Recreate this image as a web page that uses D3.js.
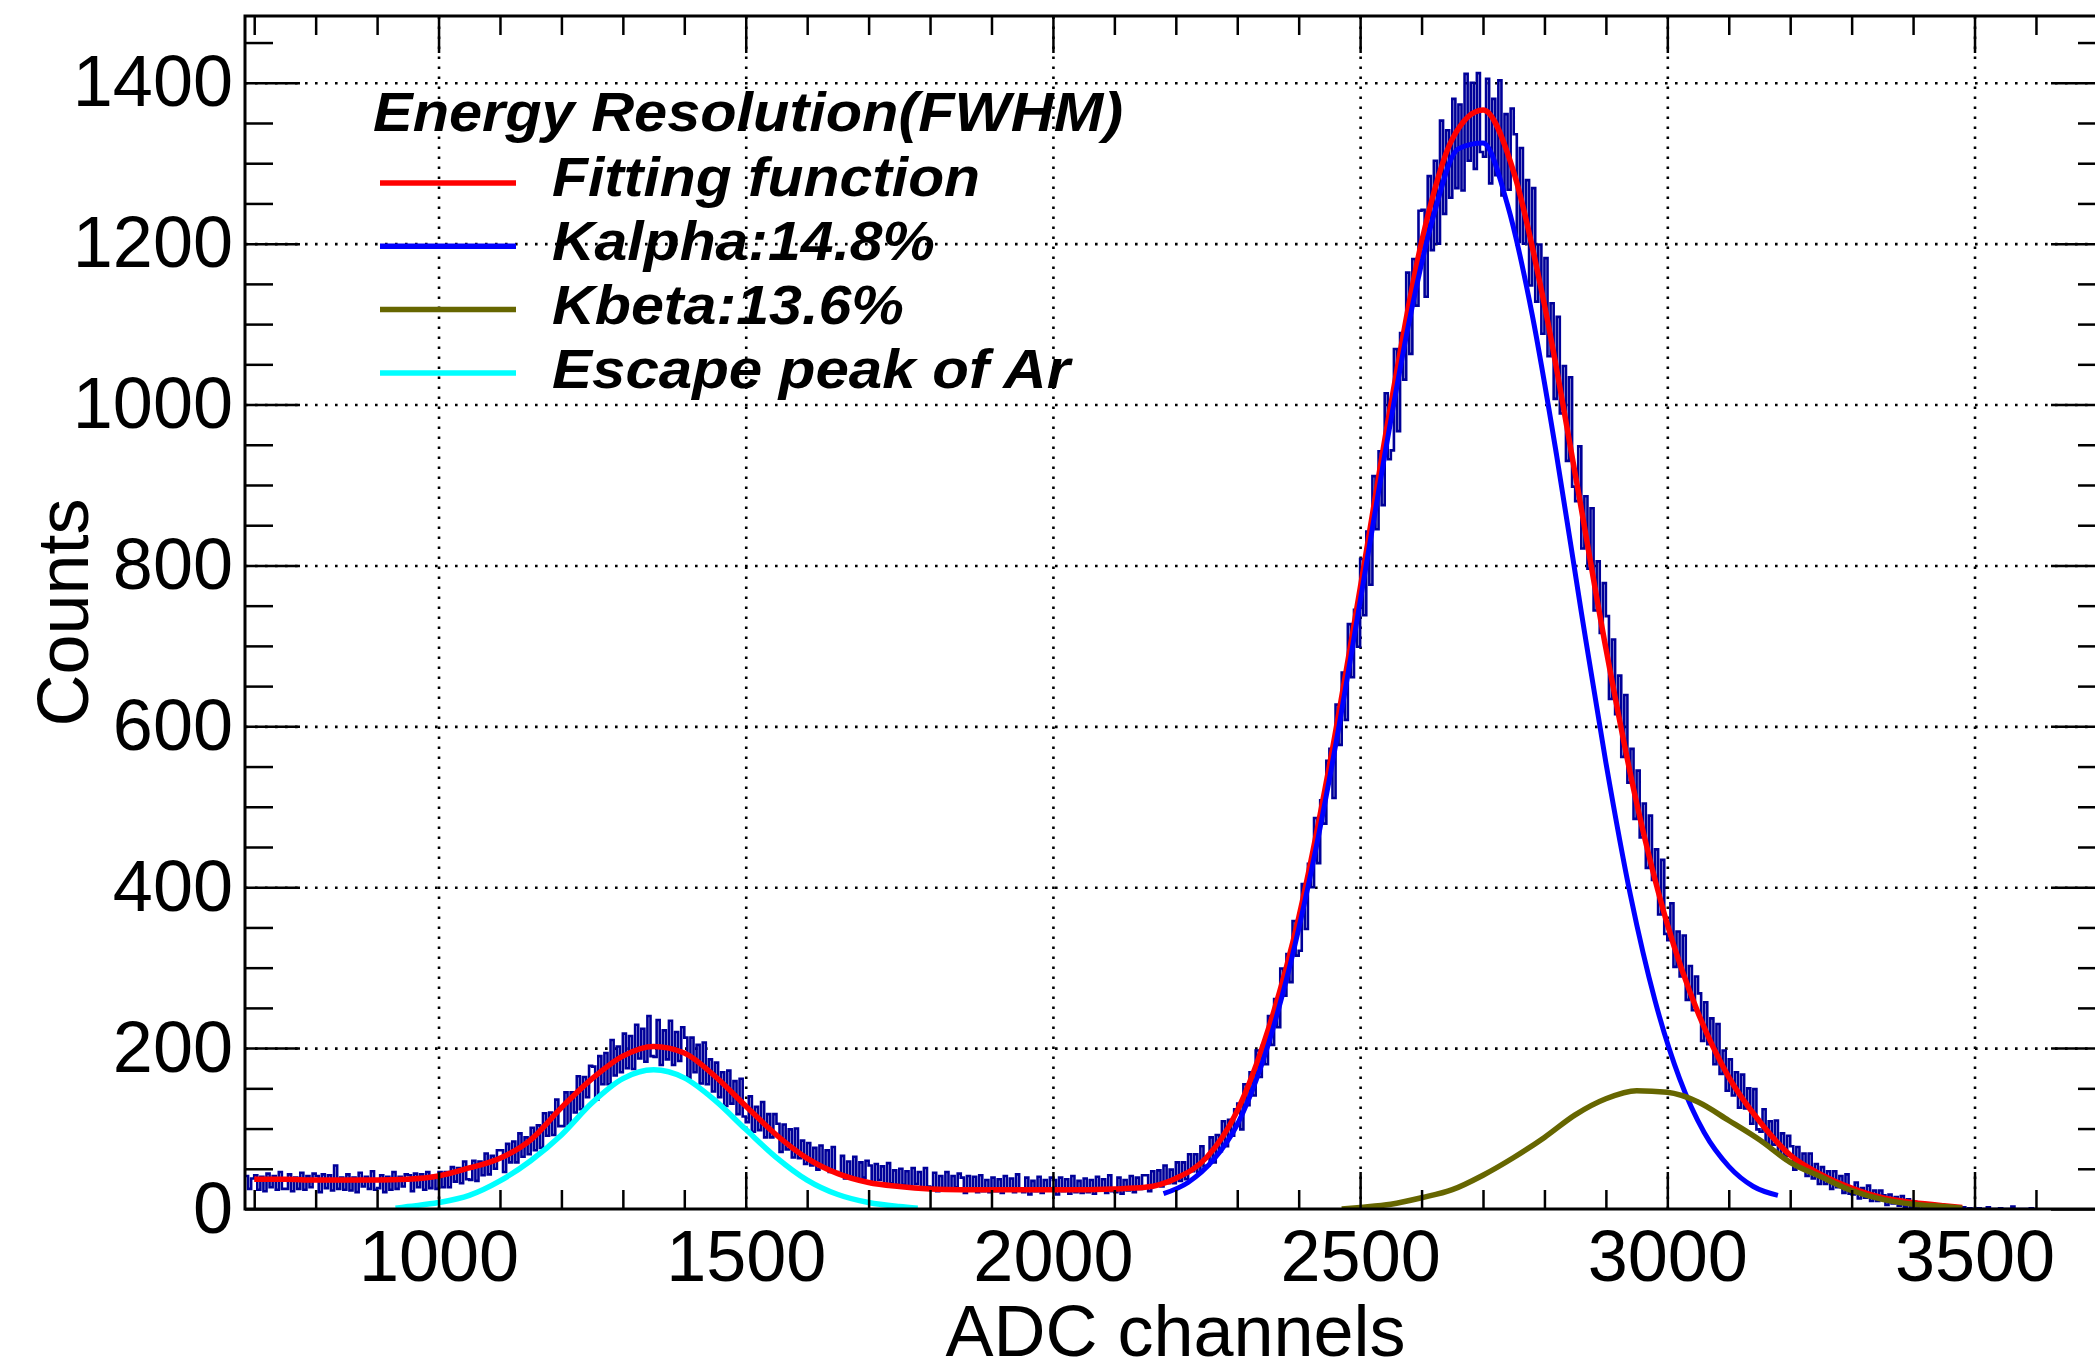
<!DOCTYPE html>
<html><head><meta charset="utf-8">
<script src="https://cdn.jsdelivr.net/npm/d3@7"></script>
<style>html,body{margin:0;padding:0;background:#fff;} svg{display:block;}</style>
</head><body><svg id="c" width="2095" height="1370"></svg>
<script>
// ---------------- data ----------------
const histLow = 685, histWidth = 5;
const histCounts = [
41,25,38,
42,24,40,22,44,27,41,24,46,25,
25,43,22,39,25,45,24,41,27,44,
41,21,43,26,42,23,54,25,39,24,
43,23,39,21,45,28,40,25,47,24,
26,42,21,40,24,46,25,40,28,43,
42,22,44,27,43,24,46,26,41,25,
46,27,46,27,52,34,51,32,59,37,
36,60,35,59,42,69,43,66,50,73,
73,46,81,58,84,58,94,65,89,68,
101,73,104,76,119,91,120,92,136,103,
103,145,105,145,120,165,124,164,139,178,
177,136,190,155,194,155,210,166,202,170,
218,175,215,174,229,187,224,183,240,190,
189,235,179,222,186,234,179,220,184,226,
213,163,213,170,204,156,207,155,186,146,
182,139,170,128,172,131,159,118,162,115,
108,140,96,127,98,133,89,118,89,118,
106,71,105,74,99,64,100,63,85,56,
82,54,76,49,79,53,73,46,77,46,
44,66,38,59,40,65,37,58,39,60,
54,31,56,36,53,31,57,32,48,30,
50,30,47,27,51,31,46,26,51,28,
27,45,22,41,26,46,23,41,27,44,
39,20,41,24,40,21,42,22,36,21,
39,22,37,20,41,24,38,21,43,23,
21,39,18,35,22,40,20,36,23,39,
36,18,39,22,37,19,41,21,35,20,
38,21,36,19,40,23,37,20,42,22,
21,39,19,36,23,41,21,39,25,42,
42,22,47,29,48,28,54,32,49,32,
58,35,58,37,68,47,68,46,78,53,
54,89,58,92,72,109,78,111,91,124,
131,99,155,129,170,141,197,164,203,180,
240,204,261,226,299,265,317,282,358,315,
321,404,348,429,400,486,430,508,479,557,
572,511,627,577,667,608,727,661,745,699,
808,738,842,776,911,845,942,875,1014,932,
943,1069,967,1089,1031,1164,1063,1181,1123,1241,
1242,1134,1284,1192,1303,1200,1353,1237,1341,1257,
1380,1269,1373,1266,1411,1303,1400,1293,1412,1314,
1308,1405,1275,1380,1285,1403,1260,1361,1267,1368,
1336,1202,1319,1200,1279,1148,1269,1128,1199,1088,
1182,1060,1126,1007,1109,989,1048,930,1034,898,
880,948,821,886,796,871,744,805,716,778,
737,634,708,615,663,562,639,530,572,485,
545,462,504,424,489,409,447,366,434,342,
334,380,301,345,289,340,260,302,247,289,
268,209,257,205,237,180,230,168,197,147,
186,141,170,126,167,125,150,106,149,99,
96,124,82,109,80,110,69,94,66,91,
78,49,77,51,69,41,69,38,56,31,
52,31,47,25,47,27,41,20,43,19,
18,33,13,26,14,29,10,23,10,23,
17,5,18,7,15,4,16,3,12,2,
9,2,8,1,7,2,6,0,5,1,
4,0,3,1,3,0,2,0,1,0,
0,1,0,0,2,0,0,0,1,0,
0,0,3,0,0,0,0,0,1,0
];
const fitX = [700,750,800,850,900,950,1000,1050,1100,1150,1200,1250,1300,1350,1400,1450,1500,1550,1600,1650,1700,1750,1800,1850,1900,1950,2000,2050,2100,2150,2200,2250,2300,2350,2400,2450,2500,2550,2600,2650,2700,2750,2800,2850,2900,2950,3000,3050,3100,3150,3200,3250,3300,3350,3400,3450,3480];
const fitY = [37,37,36,36,36,37,41,51,63,86,126,162,190,202,194,165,128,92,63,44,33,28,25,24,24,24,24,24,25,27,38,64,122,222,362,551,771,1000,1202,1330,1366,1289,1124,914,697,505,354,244,164,109,67,43,26,14,8,4,2];
const kalphaX = [2180,2220,2260,2300,2340,2380,2420,2460,2500,2540,2580,2620,2660,2700,2740,2780,2820,2860,2900,2940,2980,3020,3060,3100,3140,3180];
const kalphaY = [19,33,60,105,180,285,418,576,755,937,1104,1236,1318,1325,1248,1112,936,742,555,390,259,162,95,53,28,17];
const kbetaX = [2470,2500,2550,2600,2650,2700,2750,2800,2850,2900,2950,3000,3050,3100,3150,3200,3250,3300,3350,3400,3450,3480];
const kbetaY = [0,2,6,14,24,42,64,89,117,137,147,145,133,110,86,58,40,23,12,6,3,1];
const escapeX = [930,950,1000,1050,1100,1150,1200,1250,1300,1350,1400,1450,1500,1550,1600,1650,1700,1750,1780];
const escapeY = [1,3,8,17,35,60,92,132,162,173,163,135,99,64,36,18,8,3,1];

const xMajorTicks = [1000,1500,2000,2500,3000,3500];
const yMajorTicks = [0,200,400,600,800,1000,1200,1400];
const xTitle = "ADC channels";
const yTitle = "Counts";
const legendTitle = "Energy Resolution(FWHM)";
const legendLabels = ["Fitting function","Kalpha:14.8%","Kbeta:13.6%","Escape peak of Ar"];

// ---------------- layout / style ----------------
const L = 245, R = 2106, T = 16, B = 1209;
const FONT = "'Liberation Sans', Arial, Helvetica, sans-serif";
const cHist = "#000099", cFit = "#ff0000", cKa = "#0000ff", cKb = "#666600", cEsc = "#00ffff";
const legendColors = [cFit, cKa, cKb, cEsc];

const svg = d3.select("#c");
const x = d3.scaleLinear().domain([685, 3714]).range([L, R]);
const y = d3.scaleLinear().domain([0, 1483]).range([B, T]);
const fmt = d3.format("d");

const xMinor = d3.range(700, 3714, 100).filter(v => !xMajorTicks.includes(v));
const yMinor = d3.range(50, 1483, 50).filter(v => !yMajorTicks.includes(v));

svg.append("defs").append("clipPath").attr("id","plot")
  .append("rect").attr("x",L).attr("y",T).attr("width",R-L).attr("height",B-T);

// grid
const grid = svg.append("g").attr("class","grid");
grid.append("g").attr("transform",`translate(0,${B})`)
  .call(d3.axisBottom(x).tickValues(xMajorTicks).tickSize(-(B-T)).tickFormat(""));
grid.append("g").attr("transform",`translate(${L},0)`)
  .call(d3.axisLeft(y).tickValues(yMajorTicks.filter(v=>v>0)).tickSize(-(R-L)).tickFormat(""));
grid.selectAll(".domain").remove();
grid.selectAll("line").attr("stroke","#000").attr("stroke-width",2.6).attr("stroke-dasharray","2.6,7.4");

// data
const data = svg.append("g").attr("clip-path","url(#plot)");
const histPts = histCounts.map((v,i)=>[histLow + i*histWidth, v]);
histPts.push([histLow + histCounts.length*histWidth, histCounts[histCounts.length-1]]);
data.append("path").datum(histPts)
  .attr("d", d3.line().x(d=>x(d[0])).y(d=>y(d[1])).curve(d3.curveStepAfter))
  .attr("fill","none").attr("stroke",cHist).attr("stroke-width",2.6);

const smooth = d3.line().x(d=>x(d[0])).y(d=>y(d[1])).curve(d3.curveMonotoneX);
function drawCurve(xs, ys, color, w){
  data.append("path").datum(xs.map((v,i)=>[v, ys[i]]))
    .attr("d", smooth).attr("fill","none").attr("stroke",color)
    .attr("stroke-width",w).attr("stroke-linejoin","round");
}
drawCurve(fitX, fitY, cFit, 5.5);
drawCurve(kalphaX, kalphaY, cKa, 5);
drawCurve(kbetaX, kbetaY, cKb, 5.5);
drawCurve(escapeX, escapeY, cEsc, 5.5);

// axes
const axes = svg.append("g");
function styleAxis(g){
  g.selectAll(".domain").remove();
  g.selectAll("line").attr("stroke","#000").attr("stroke-width",2.5);
  g.selectAll("text").attr("font-family",FONT).attr("font-size",72).attr("fill","#000");
}
axes.append("g").attr("transform",`translate(0,${B})`)
  .call(d3.axisBottom(x).tickValues(xMajorTicks).tickFormat(fmt).tickSize(-37).tickPadding(21)).call(styleAxis);
axes.append("g").attr("transform",`translate(0,${B})`)
  .call(d3.axisBottom(x).tickValues(xMinor).tickSize(-19).tickFormat("")).call(styleAxis);
axes.append("g").attr("transform",`translate(0,${T})`)
  .call(d3.axisTop(x).tickValues(xMajorTicks).tickSize(-37).tickFormat("")).call(styleAxis);
axes.append("g").attr("transform",`translate(0,${T})`)
  .call(d3.axisTop(x).tickValues(xMinor).tickSize(-19).tickFormat("")).call(styleAxis);
axes.append("g").attr("transform",`translate(${L},0)`)
  .call(d3.axisLeft(y).tickValues(yMajorTicks).tickFormat(fmt).tickSize(-55).tickPadding(12)).call(styleAxis);
axes.append("g").attr("transform",`translate(${L},0)`)
  .call(d3.axisLeft(y).tickValues(yMinor).tickSize(-28).tickFormat("")).call(styleAxis);
axes.append("g").attr("transform",`translate(${R},0)`)
  .call(d3.axisRight(y).tickValues(yMajorTicks).tickSize(-55).tickFormat("")).call(styleAxis);
axes.append("g").attr("transform",`translate(${R},0)`)
  .call(d3.axisRight(y).tickValues(yMinor).tickSize(-28).tickFormat("")).call(styleAxis);

// frame
svg.append("rect").attr("x",L).attr("y",T).attr("width",R-L).attr("height",B-T)
  .attr("fill","none").attr("stroke","#000").attr("stroke-width",3);

// titles
svg.append("text").attr("x",(L+R)/2).attr("y",1356).attr("text-anchor","middle")
  .attr("font-family",FONT).attr("font-size",72).text(xTitle);
svg.append("text").attr("transform",`translate(88,${(T+B)/2}) rotate(-90)`).attr("text-anchor","middle")
  .attr("font-family",FONT).attr("font-size",72).text(yTitle);

// legend
const lg = svg.append("g").attr("font-family",FONT).attr("font-weight","bold").attr("font-style","italic").attr("font-size",56);
lg.append("text").attr("x",373).attr("y",131).attr("textLength",750).attr("lengthAdjust","spacingAndGlyphs").text(legendTitle);
const labelWidths = [428, 383, 352, 518];
legendLabels.forEach((lab,i)=>{
  const ly = 183 + i*63.3;
  lg.append("line").attr("x1",380).attr("x2",516).attr("y1",ly).attr("y2",ly)
    .attr("stroke",legendColors[i]).attr("stroke-width",5.5);
  lg.append("text").attr("x",552).attr("y",196 + i*64).attr("textLength",labelWidths[i])
    .attr("lengthAdjust","spacingAndGlyphs").text(lab);
});
</script></body></html>
